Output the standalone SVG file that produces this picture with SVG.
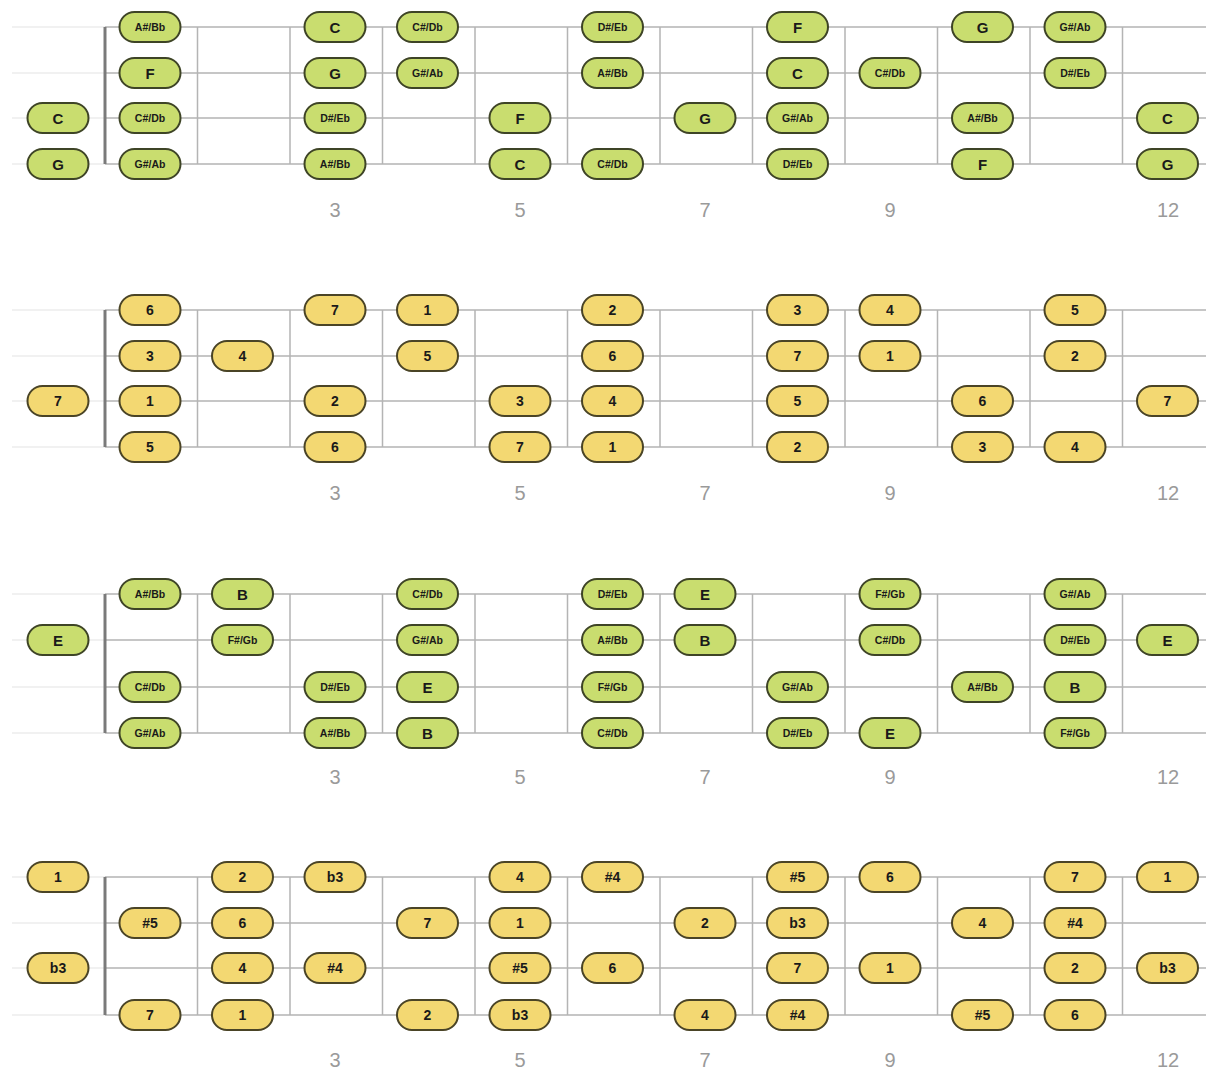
<svg xmlns="http://www.w3.org/2000/svg" xmlns:xlink="http://www.w3.org/1999/xlink" width="1206" height="1070" viewBox="0 0 1206 1070">
<style>
.str{stroke:#b4b4b4;stroke-width:1.5;fill:none}
.fnt{stroke:#ededed;stroke-width:1.5;fill:none}
.fret{stroke:#b4b4b4;stroke-width:1.5;fill:none}
.nut{stroke:#7a7a7a;stroke-width:3;fill:none}
.pg{fill:#c9dd6f;stroke:#3e4426;stroke-width:2}
.py{fill:#f3d872;stroke:#4a4426;stroke-width:2}
text{font-family:"Liberation Sans",Arial,sans-serif;font-weight:bold;fill:#1a1a1a;text-anchor:middle}
.tL{font-size:15px}
.tS{font-size:10.5px}
.tD{font-size:14px}
.fn{font-size:20px;font-weight:normal;fill:#9a9a9a}
</style>
<defs>
<rect id="pill" x="-30.5" y="-15" width="61" height="30" rx="15"/>
</defs>
<rect width="1206" height="1070" fill="#ffffff"/>

<g id="connectors">
<!-- Panel 1 grid -->
<g id="grid1">
<path class="fnt" d="M12 27H105M12 73H105M12 118H105M12 164H105"/>
<path class="str" d="M105 27H1206M105 73H1206M105 118H1206M105 164H1206"/>
<path class="fret" d="M197.5 27V164M290 27V164M382.5 27V164M475 27V164M567.5 27V164M660 27V164M752.5 27V164M845 27V164M937.5 27V164M1030 27V164M1122.5 27V164"/>
<path class="nut" d="M105 27V164"/>
</g>
<g id="grid2">
<path class="fnt" d="M12 310H105M12 356H105M12 401H105M12 447H105"/>
<path class="str" d="M105 310H1206M105 356H1206M105 401H1206M105 447H1206"/>
<path class="fret" d="M197.5 310V447M290 310V447M382.5 310V447M475 310V447M567.5 310V447M660 310V447M752.5 310V447M845 310V447M937.5 310V447M1030 310V447M1122.5 310V447"/>
<path class="nut" d="M105 310V447"/>
</g>
<g id="grid3">
<path class="fnt" d="M12 594H105M12 640H105M12 687H105M12 733H105"/>
<path class="str" d="M105 594H1206M105 640H1206M105 687H1206M105 733H1206"/>
<path class="fret" d="M197.5 594V733M290 594V733M382.5 594V733M475 594V733M567.5 594V733M660 594V733M752.5 594V733M845 594V733M937.5 594V733M1030 594V733M1122.5 594V733"/>
<path class="nut" d="M105 594V733"/>
</g>
<g id="grid4">
<path class="fnt" d="M12 877H105M12 923H105M12 968H105M12 1015H105"/>
<path class="str" d="M105 877H1206M105 923H1206M105 968H1206M105 1015H1206"/>
<path class="fret" d="M197.5 877V1015M290 877V1015M382.5 877V1015M475 877V1015M567.5 877V1015M660 877V1015M752.5 877V1015M845 877V1015M937.5 877V1015M1030 877V1015M1122.5 877V1015"/>
<path class="nut" d="M105 877V1015"/>
</g>
</g>

<g id="fret-numbers">
<text class="fn" x="335" y="217">3</text><text class="fn" x="520" y="217">5</text><text class="fn" x="705" y="217">7</text><text class="fn" x="890" y="217">9</text><text class="fn" x="1168" y="217">12</text>
<text class="fn" x="335" y="500">3</text><text class="fn" x="520" y="500">5</text><text class="fn" x="705" y="500">7</text><text class="fn" x="890" y="500">9</text><text class="fn" x="1168" y="500">12</text>
<text class="fn" x="335" y="784">3</text><text class="fn" x="520" y="784">5</text><text class="fn" x="705" y="784">7</text><text class="fn" x="890" y="784">9</text><text class="fn" x="1168" y="784">12</text>
<text class="fn" x="335" y="1067">3</text><text class="fn" x="520" y="1067">5</text><text class="fn" x="705" y="1067">7</text><text class="fn" x="890" y="1067">9</text><text class="fn" x="1168" y="1067">12</text>
</g>

<!-- Panel 1: notes -->
<g id="panel1">
<g id="p1-r1-f1" transform="translate(150 27)"><use href="#pill" class="pg"/><text class="tS" y="4">A#/Bb</text></g>
<g id="p1-r1-f3" transform="translate(335 27)"><use href="#pill" class="pg"/><text class="tL" y="5.5">C</text></g>
<g id="p1-r1-f4" transform="translate(427.5 27)"><use href="#pill" class="pg"/><text class="tS" y="4">C#/Db</text></g>
<g id="p1-r1-f6" transform="translate(612.5 27)"><use href="#pill" class="pg"/><text class="tS" y="4">D#/Eb</text></g>
<g id="p1-r1-f8" transform="translate(797.5 27)"><use href="#pill" class="pg"/><text class="tL" y="5.5">F</text></g>
<g id="p1-r1-f10" transform="translate(982.5 27)"><use href="#pill" class="pg"/><text class="tL" y="5.5">G</text></g>
<g id="p1-r1-f11" transform="translate(1075 27)"><use href="#pill" class="pg"/><text class="tS" y="4">G#/Ab</text></g>

<g id="p1-r2-f1" transform="translate(150 73)"><use href="#pill" class="pg"/><text class="tL" y="5.5">F</text></g>
<g id="p1-r2-f3" transform="translate(335 73)"><use href="#pill" class="pg"/><text class="tL" y="5.5">G</text></g>
<g id="p1-r2-f4" transform="translate(427.5 73)"><use href="#pill" class="pg"/><text class="tS" y="4">G#/Ab</text></g>
<g id="p1-r2-f6" transform="translate(612.5 73)"><use href="#pill" class="pg"/><text class="tS" y="4">A#/Bb</text></g>
<g id="p1-r2-f8" transform="translate(797.5 73)"><use href="#pill" class="pg"/><text class="tL" y="5.5">C</text></g>
<g id="p1-r2-f9" transform="translate(890 73)"><use href="#pill" class="pg"/><text class="tS" y="4">C#/Db</text></g>
<g id="p1-r2-f11" transform="translate(1075 73)"><use href="#pill" class="pg"/><text class="tS" y="4">D#/Eb</text></g>

<g id="p1-r3-f0" transform="translate(58 118)"><use href="#pill" class="pg"/><text class="tL" y="5.5">C</text></g>
<g id="p1-r3-f1" transform="translate(150 118)"><use href="#pill" class="pg"/><text class="tS" y="4">C#/Db</text></g>
<g id="p1-r3-f3" transform="translate(335 118)"><use href="#pill" class="pg"/><text class="tS" y="4">D#/Eb</text></g>
<g id="p1-r3-f5" transform="translate(520 118)"><use href="#pill" class="pg"/><text class="tL" y="5.5">F</text></g>
<g id="p1-r3-f7" transform="translate(705 118)"><use href="#pill" class="pg"/><text class="tL" y="5.5">G</text></g>
<g id="p1-r3-f8" transform="translate(797.5 118)"><use href="#pill" class="pg"/><text class="tS" y="4">G#/Ab</text></g>
<g id="p1-r3-f10" transform="translate(982.5 118)"><use href="#pill" class="pg"/><text class="tS" y="4">A#/Bb</text></g>
<g id="p1-r3-f12" transform="translate(1167.5 118)"><use href="#pill" class="pg"/><text class="tL" y="5.5">C</text></g>

<g id="p1-r4-f0" transform="translate(58 164)"><use href="#pill" class="pg"/><text class="tL" y="5.5">G</text></g>
<g id="p1-r4-f1" transform="translate(150 164)"><use href="#pill" class="pg"/><text class="tS" y="4">G#/Ab</text></g>
<g id="p1-r4-f3" transform="translate(335 164)"><use href="#pill" class="pg"/><text class="tS" y="4">A#/Bb</text></g>
<g id="p1-r4-f5" transform="translate(520 164)"><use href="#pill" class="pg"/><text class="tL" y="5.5">C</text></g>
<g id="p1-r4-f6" transform="translate(612.5 164)"><use href="#pill" class="pg"/><text class="tS" y="4">C#/Db</text></g>
<g id="p1-r4-f8" transform="translate(797.5 164)"><use href="#pill" class="pg"/><text class="tS" y="4">D#/Eb</text></g>
<g id="p1-r4-f10" transform="translate(982.5 164)"><use href="#pill" class="pg"/><text class="tL" y="5.5">F</text></g>
<g id="p1-r4-f12" transform="translate(1167.5 164)"><use href="#pill" class="pg"/><text class="tL" y="5.5">G</text></g>
</g>

<!-- Panel 2: degrees -->
<g id="panel2">
<g id="p2-r1-f1" transform="translate(150 310)"><use href="#pill" class="py"/><text class="tD" y="5">6</text></g>
<g id="p2-r1-f3" transform="translate(335 310)"><use href="#pill" class="py"/><text class="tD" y="5">7</text></g>
<g id="p2-r1-f4" transform="translate(427.5 310)"><use href="#pill" class="py"/><text class="tD" y="5">1</text></g>
<g id="p2-r1-f6" transform="translate(612.5 310)"><use href="#pill" class="py"/><text class="tD" y="5">2</text></g>
<g id="p2-r1-f8" transform="translate(797.5 310)"><use href="#pill" class="py"/><text class="tD" y="5">3</text></g>
<g id="p2-r1-f9" transform="translate(890 310)"><use href="#pill" class="py"/><text class="tD" y="5">4</text></g>
<g id="p2-r1-f11" transform="translate(1075 310)"><use href="#pill" class="py"/><text class="tD" y="5">5</text></g>

<g id="p2-r2-f1" transform="translate(150 356)"><use href="#pill" class="py"/><text class="tD" y="5">3</text></g>
<g id="p2-r2-f2" transform="translate(242.5 356)"><use href="#pill" class="py"/><text class="tD" y="5">4</text></g>
<g id="p2-r2-f4" transform="translate(427.5 356)"><use href="#pill" class="py"/><text class="tD" y="5">5</text></g>
<g id="p2-r2-f6" transform="translate(612.5 356)"><use href="#pill" class="py"/><text class="tD" y="5">6</text></g>
<g id="p2-r2-f8" transform="translate(797.5 356)"><use href="#pill" class="py"/><text class="tD" y="5">7</text></g>
<g id="p2-r2-f9" transform="translate(890 356)"><use href="#pill" class="py"/><text class="tD" y="5">1</text></g>
<g id="p2-r2-f11" transform="translate(1075 356)"><use href="#pill" class="py"/><text class="tD" y="5">2</text></g>

<g id="p2-r3-f0" transform="translate(58 401)"><use href="#pill" class="py"/><text class="tD" y="5">7</text></g>
<g id="p2-r3-f1" transform="translate(150 401)"><use href="#pill" class="py"/><text class="tD" y="5">1</text></g>
<g id="p2-r3-f3" transform="translate(335 401)"><use href="#pill" class="py"/><text class="tD" y="5">2</text></g>
<g id="p2-r3-f5" transform="translate(520 401)"><use href="#pill" class="py"/><text class="tD" y="5">3</text></g>
<g id="p2-r3-f6" transform="translate(612.5 401)"><use href="#pill" class="py"/><text class="tD" y="5">4</text></g>
<g id="p2-r3-f8" transform="translate(797.5 401)"><use href="#pill" class="py"/><text class="tD" y="5">5</text></g>
<g id="p2-r3-f10" transform="translate(982.5 401)"><use href="#pill" class="py"/><text class="tD" y="5">6</text></g>
<g id="p2-r3-f12" transform="translate(1167.5 401)"><use href="#pill" class="py"/><text class="tD" y="5">7</text></g>

<g id="p2-r4-f1" transform="translate(150 447)"><use href="#pill" class="py"/><text class="tD" y="5">5</text></g>
<g id="p2-r4-f3" transform="translate(335 447)"><use href="#pill" class="py"/><text class="tD" y="5">6</text></g>
<g id="p2-r4-f5" transform="translate(520 447)"><use href="#pill" class="py"/><text class="tD" y="5">7</text></g>
<g id="p2-r4-f6" transform="translate(612.5 447)"><use href="#pill" class="py"/><text class="tD" y="5">1</text></g>
<g id="p2-r4-f8" transform="translate(797.5 447)"><use href="#pill" class="py"/><text class="tD" y="5">2</text></g>
<g id="p2-r4-f10" transform="translate(982.5 447)"><use href="#pill" class="py"/><text class="tD" y="5">3</text></g>
<g id="p2-r4-f11" transform="translate(1075 447)"><use href="#pill" class="py"/><text class="tD" y="5">4</text></g>
</g>

<!-- Panel 3: notes -->
<g id="panel3">
<g id="p3-r1-f1" transform="translate(150 594)"><use href="#pill" class="pg"/><text class="tS" y="4">A#/Bb</text></g>
<g id="p3-r1-f2" transform="translate(242.5 594)"><use href="#pill" class="pg"/><text class="tL" y="5.5">B</text></g>
<g id="p3-r1-f4" transform="translate(427.5 594)"><use href="#pill" class="pg"/><text class="tS" y="4">C#/Db</text></g>
<g id="p3-r1-f6" transform="translate(612.5 594)"><use href="#pill" class="pg"/><text class="tS" y="4">D#/Eb</text></g>
<g id="p3-r1-f7" transform="translate(705 594)"><use href="#pill" class="pg"/><text class="tL" y="5.5">E</text></g>
<g id="p3-r1-f9" transform="translate(890 594)"><use href="#pill" class="pg"/><text class="tS" y="4">F#/Gb</text></g>
<g id="p3-r1-f11" transform="translate(1075 594)"><use href="#pill" class="pg"/><text class="tS" y="4">G#/Ab</text></g>

<g id="p3-r2-f0" transform="translate(58 640)"><use href="#pill" class="pg"/><text class="tL" y="5.5">E</text></g>
<g id="p3-r2-f2" transform="translate(242.5 640)"><use href="#pill" class="pg"/><text class="tS" y="4">F#/Gb</text></g>
<g id="p3-r2-f4" transform="translate(427.5 640)"><use href="#pill" class="pg"/><text class="tS" y="4">G#/Ab</text></g>
<g id="p3-r2-f6" transform="translate(612.5 640)"><use href="#pill" class="pg"/><text class="tS" y="4">A#/Bb</text></g>
<g id="p3-r2-f7" transform="translate(705 640)"><use href="#pill" class="pg"/><text class="tL" y="5.5">B</text></g>
<g id="p3-r2-f9" transform="translate(890 640)"><use href="#pill" class="pg"/><text class="tS" y="4">C#/Db</text></g>
<g id="p3-r2-f11" transform="translate(1075 640)"><use href="#pill" class="pg"/><text class="tS" y="4">D#/Eb</text></g>
<g id="p3-r2-f12" transform="translate(1167.5 640)"><use href="#pill" class="pg"/><text class="tL" y="5.5">E</text></g>

<g id="p3-r3-f1" transform="translate(150 687)"><use href="#pill" class="pg"/><text class="tS" y="4">C#/Db</text></g>
<g id="p3-r3-f3" transform="translate(335 687)"><use href="#pill" class="pg"/><text class="tS" y="4">D#/Eb</text></g>
<g id="p3-r3-f4" transform="translate(427.5 687)"><use href="#pill" class="pg"/><text class="tL" y="5.5">E</text></g>
<g id="p3-r3-f6" transform="translate(612.5 687)"><use href="#pill" class="pg"/><text class="tS" y="4">F#/Gb</text></g>
<g id="p3-r3-f8" transform="translate(797.5 687)"><use href="#pill" class="pg"/><text class="tS" y="4">G#/Ab</text></g>
<g id="p3-r3-f10" transform="translate(982.5 687)"><use href="#pill" class="pg"/><text class="tS" y="4">A#/Bb</text></g>
<g id="p3-r3-f11" transform="translate(1075 687)"><use href="#pill" class="pg"/><text class="tL" y="5.5">B</text></g>

<g id="p3-r4-f1" transform="translate(150 733)"><use href="#pill" class="pg"/><text class="tS" y="4">G#/Ab</text></g>
<g id="p3-r4-f3" transform="translate(335 733)"><use href="#pill" class="pg"/><text class="tS" y="4">A#/Bb</text></g>
<g id="p3-r4-f4" transform="translate(427.5 733)"><use href="#pill" class="pg"/><text class="tL" y="5.5">B</text></g>
<g id="p3-r4-f6" transform="translate(612.5 733)"><use href="#pill" class="pg"/><text class="tS" y="4">C#/Db</text></g>
<g id="p3-r4-f8" transform="translate(797.5 733)"><use href="#pill" class="pg"/><text class="tS" y="4">D#/Eb</text></g>
<g id="p3-r4-f9" transform="translate(890 733)"><use href="#pill" class="pg"/><text class="tL" y="5.5">E</text></g>
<g id="p3-r4-f11" transform="translate(1075 733)"><use href="#pill" class="pg"/><text class="tS" y="4">F#/Gb</text></g>
</g>

<!-- Panel 4: degrees -->
<g id="panel4">
<g id="p4-r1-f0" transform="translate(58 877)"><use href="#pill" class="py"/><text class="tD" y="5">1</text></g>
<g id="p4-r1-f2" transform="translate(242.5 877)"><use href="#pill" class="py"/><text class="tD" y="5">2</text></g>
<g id="p4-r1-f3" transform="translate(335 877)"><use href="#pill" class="py"/><text class="tD" y="5">b3</text></g>
<g id="p4-r1-f5" transform="translate(520 877)"><use href="#pill" class="py"/><text class="tD" y="5">4</text></g>
<g id="p4-r1-f6" transform="translate(612.5 877)"><use href="#pill" class="py"/><text class="tD" y="5">#4</text></g>
<g id="p4-r1-f8" transform="translate(797.5 877)"><use href="#pill" class="py"/><text class="tD" y="5">#5</text></g>
<g id="p4-r1-f9" transform="translate(890 877)"><use href="#pill" class="py"/><text class="tD" y="5">6</text></g>
<g id="p4-r1-f11" transform="translate(1075 877)"><use href="#pill" class="py"/><text class="tD" y="5">7</text></g>
<g id="p4-r1-f12" transform="translate(1167.5 877)"><use href="#pill" class="py"/><text class="tD" y="5">1</text></g>

<g id="p4-r2-f1" transform="translate(150 923)"><use href="#pill" class="py"/><text class="tD" y="5">#5</text></g>
<g id="p4-r2-f2" transform="translate(242.5 923)"><use href="#pill" class="py"/><text class="tD" y="5">6</text></g>
<g id="p4-r2-f4" transform="translate(427.5 923)"><use href="#pill" class="py"/><text class="tD" y="5">7</text></g>
<g id="p4-r2-f5" transform="translate(520 923)"><use href="#pill" class="py"/><text class="tD" y="5">1</text></g>
<g id="p4-r2-f7" transform="translate(705 923)"><use href="#pill" class="py"/><text class="tD" y="5">2</text></g>
<g id="p4-r2-f8" transform="translate(797.5 923)"><use href="#pill" class="py"/><text class="tD" y="5">b3</text></g>
<g id="p4-r2-f10" transform="translate(982.5 923)"><use href="#pill" class="py"/><text class="tD" y="5">4</text></g>
<g id="p4-r2-f11" transform="translate(1075 923)"><use href="#pill" class="py"/><text class="tD" y="5">#4</text></g>

<g id="p4-r3-f0" transform="translate(58 968)"><use href="#pill" class="py"/><text class="tD" y="5">b3</text></g>
<g id="p4-r3-f2" transform="translate(242.5 968)"><use href="#pill" class="py"/><text class="tD" y="5">4</text></g>
<g id="p4-r3-f3" transform="translate(335 968)"><use href="#pill" class="py"/><text class="tD" y="5">#4</text></g>
<g id="p4-r3-f5" transform="translate(520 968)"><use href="#pill" class="py"/><text class="tD" y="5">#5</text></g>
<g id="p4-r3-f6" transform="translate(612.5 968)"><use href="#pill" class="py"/><text class="tD" y="5">6</text></g>
<g id="p4-r3-f8" transform="translate(797.5 968)"><use href="#pill" class="py"/><text class="tD" y="5">7</text></g>
<g id="p4-r3-f9" transform="translate(890 968)"><use href="#pill" class="py"/><text class="tD" y="5">1</text></g>
<g id="p4-r3-f11" transform="translate(1075 968)"><use href="#pill" class="py"/><text class="tD" y="5">2</text></g>
<g id="p4-r3-f12" transform="translate(1167.5 968)"><use href="#pill" class="py"/><text class="tD" y="5">b3</text></g>

<g id="p4-r4-f1" transform="translate(150 1015)"><use href="#pill" class="py"/><text class="tD" y="5">7</text></g>
<g id="p4-r4-f2" transform="translate(242.5 1015)"><use href="#pill" class="py"/><text class="tD" y="5">1</text></g>
<g id="p4-r4-f4" transform="translate(427.5 1015)"><use href="#pill" class="py"/><text class="tD" y="5">2</text></g>
<g id="p4-r4-f5" transform="translate(520 1015)"><use href="#pill" class="py"/><text class="tD" y="5">b3</text></g>
<g id="p4-r4-f7" transform="translate(705 1015)"><use href="#pill" class="py"/><text class="tD" y="5">4</text></g>
<g id="p4-r4-f8" transform="translate(797.5 1015)"><use href="#pill" class="py"/><text class="tD" y="5">#4</text></g>
<g id="p4-r4-f10" transform="translate(982.5 1015)"><use href="#pill" class="py"/><text class="tD" y="5">#5</text></g>
<g id="p4-r4-f11" transform="translate(1075 1015)"><use href="#pill" class="py"/><text class="tD" y="5">6</text></g>
</g>
</svg>
